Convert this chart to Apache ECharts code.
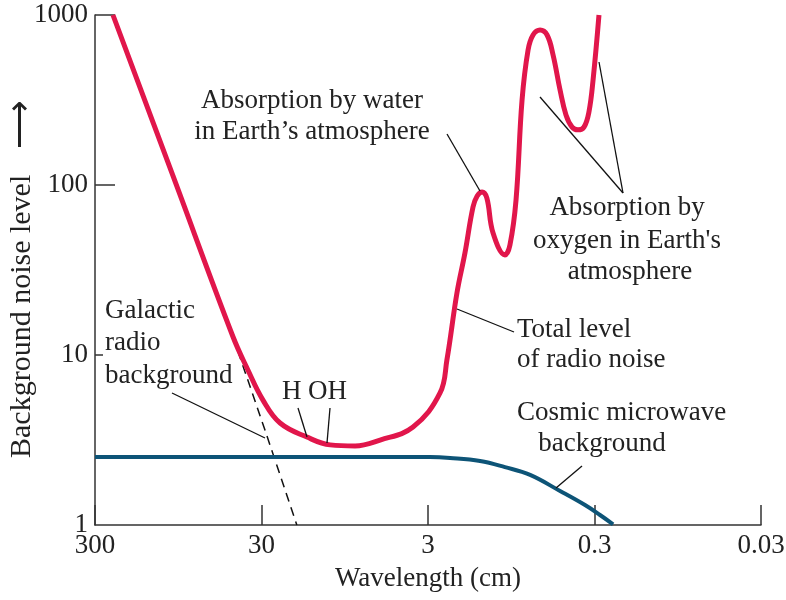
<!DOCTYPE html>
<html>
<head>
<meta charset="utf-8">
<script src="https://cdn.jsdelivr.net/npm/echarts@6/dist/echarts.min.js"></script>
<style>
html,body{margin:0;padding:0;background:#fff;}
#c{width:786px;height:600px;}
</style>
</head>
<body>
<div id="c"></div>
<script>
// ---- data ----
const xTickValues = [0.03, 0.3, 3, 30, 300];
const xTickLabels = ['0.03', '0.3', '3', '30', '300'];
const yTickValues = [1, 10, 100, 1000];
const yTickLabels = ['1', '10', '100', '1000'];

// Total level of radio noise
const totalWavelength = [234, 102, 44.5, 36.2, 29.4, 23.2, 16.0, 11.6, 8.23, 5.82, 3.69, 2.54, 2.31, 2.01, 1.80, 1.61, 1.52, 1.42, 1.33, 1.22, 1.035, 0.966, 0.888, 0.817, 0.752, 0.702, 0.637, 0.578, 0.532, 0.483, 0.445, 0.409, 0.377, 0.347, 0.324, 0.306, 0.282];
const totalLevel = [1000, 113, 12.8, 8.16, 5.43, 3.98, 3.29, 2.96, 2.92, 3.16, 3.77, 5.98, 9.35, 23.2, 39.8, 74.2, 86.1, 91, 83.9, 52.2, 38.8, 44.4, 81.6, 316, 622, 763, 816, 763, 582, 362, 258, 219, 211, 219, 269, 415, 1000];

// Cosmic microwave background
const cmbWavelength = [300, 2.92, 2.21, 1.46, 1.035, 0.731, 0.483, 0.342, 0.278, 0.232];
const cmbLevel = [2.51, 2.51, 2.48, 2.38, 2.19, 1.97, 1.585, 1.31, 1.145, 1.01];

// Galactic radio background (dashed continuation)
const galWavelength = [44.5, 28.6, 18.4];
const galLevel = [12.8, 3.62, 1.0];

const xAxisTitle = 'Wavelength (cm)';
const yAxisTitle = 'Background noise level';

function pairs(xs, ys) { return xs.map((x, i) => [x, ys[i]]); }
function nearestLabel(v, vals, labels) {
  let best = 0, bd = Infinity;
  vals.forEach((t, i) => { const d = Math.abs(Math.log10(v) - Math.log10(t)); if (d < bd) { bd = d; best = i; } });
  return labels[best];
}

const FONT = '"Liberation Serif", "Times New Roman", serif';
const FS = 27;
const TXT = '#222';

const chart = echarts.init(document.getElementById('c'), null, { renderer: 'canvas' });

chart.setOption({
  animation: false,
  backgroundColor: '#fff',
  grid: { left: 95, right: 25, top: 15, bottom: 75, containLabel: false, outerBoundsMode: 'none' },
  xAxis: {
    type: 'log', logBase: 10, min: 0.03, max: 300, inverse: true,
    name: xAxisTitle, nameLocation: 'middle', nameGap: 40,
    nameTextStyle: { fontFamily: FONT, fontSize: FS, color: TXT },
    axisLine: { show: true, lineStyle: { color: '#333', width: 1.5 } },
    axisTick: { show: true, inside: true, length: 20, customValues: xTickValues, lineStyle: { color: '#333', width: 1.5 } },
    axisLabel: { show: true, customValues: xTickValues, margin: 7, fontFamily: FONT, fontSize: FS, color: TXT,
      formatter: v => nearestLabel(v, xTickValues, xTickLabels) },
    splitLine: { show: false }, minorTick: { show: false }
  },
  yAxis: {
    type: 'log', logBase: 10, min: 1, max: 1000,
    axisLine: { show: true, lineStyle: { color: '#333', width: 1.5 } },
    axisTick: { show: true, inside: true, length: 20, customValues: [10, 100, 1000], lineStyle: { color: '#333', width: 1.5 } },
    axisLabel: { show: true, customValues: yTickValues, margin: 7, fontFamily: FONT, fontSize: FS, color: TXT,
      formatter: v => nearestLabel(v, yTickValues, yTickLabels) },
    splitLine: { show: false }, minorTick: { show: false }
  },
  series: [
    { type: 'line', name: 'Galactic', data: pairs(galWavelength, galLevel), showSymbol: false, symbol: 'none',
      lineStyle: { color: '#111', width: 1.5, type: [9, 6] }, z: 1 },
    { type: 'line', name: 'CMB', data: pairs(cmbWavelength, cmbLevel), showSymbol: false, symbol: 'none', smooth: 0.4,
      lineStyle: { color: '#0d5477', width: 4 }, z: 2 },
    { type: 'line', name: 'Total', data: pairs(totalWavelength, totalLevel), showSymbol: false, symbol: 'none', smooth: 0.4,
      lineStyle: { color: '#e1164b', width: 5 }, z: 3 }
  ]
});

// ---- annotations ----
function txt(x, y, s, align, bg) {
  const st = { text: s, font: FS + 'px ' + FONT, fill: TXT, textAlign: align || 'left', textVerticalAlign: 'middle' };
  if (bg) { st.backgroundColor = '#fff'; st.padding = [0, 0, 0, 2]; }
  return { type: 'text', x: x, y: y, silent: true, z: 10, style: st };
}
function ln(x1, y1, x2, y2) {
  return { type: 'line', silent: true, z: 10, shape: { x1, y1, x2, y2 }, style: { stroke: '#111', lineWidth: 1.3 } };
}
chart.setOption({
  graphic: [
    { type: 'text', x: 22, y: 458, rotation: Math.PI / 2, silent: true, z: 10,
      style: { text: yAxisTitle, font: '30px ' + FONT, fill: TXT, textAlign: 'left', textVerticalAlign: 'middle' } },
    { type: 'text', x: 21, y: 124, rotation: Math.PI / 2, silent: true, z: 10,
      style: { text: '\u27F6', font: '34px ' + FONT, fill: TXT, textAlign: 'center', textVerticalAlign: 'middle' } },
    txt(312, 101, 'Absorption by water', 'center'),
    txt(312, 132, 'in Earth\u2019s atmosphere', 'center'),
    ln(447, 134, 480, 191),
    txt(627, 208, 'Absorption by', 'center'),
    txt(627, 241, "oxygen in Earth's", 'center'),
    txt(630, 272, 'atmosphere', 'center'),
    ln(623, 193, 540, 97),
    ln(623, 193, 599, 62),
    txt(517, 330, 'Total level'),
    txt(517, 360, 'of radio noise'),
    ln(457, 309, 514, 332),
    txt(517, 413, 'Cosmic microwave'),
    txt(602, 444, 'background', 'center'),
    ln(556, 488, 582, 466),
    txt(105, 311, 'Galactic'),
    txt(103, 343, 'radio', 'left', true),
    txt(105, 376, 'background'),
    ln(172, 393, 265, 438),
    txt(282, 392, 'H'),
    txt(308, 392, 'OH'),
    ln(298, 408, 307, 437),
    ln(330, 408, 327, 443)
  ]
});
</script>
</body>
</html>
